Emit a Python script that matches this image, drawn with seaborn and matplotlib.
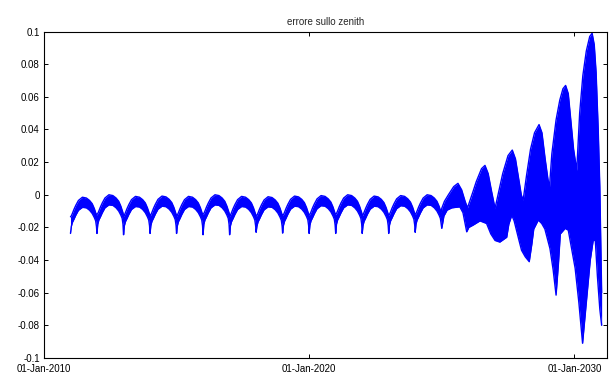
import numpy as np
import pandas as pd
import matplotlib
matplotlib.use("Agg")
from matplotlib import pyplot as plt
import matplotlib.dates as mdates
import seaborn as sns

# ---- data ----
# years 2011..2024: one arch per year, shape of one arch (fraction of year, upper, lower)
arch_years = list(range(2011, 2025))
arch_top = [-0.0015, 0.0, -0.001, -0.0008, -0.001, 0.0, -0.001, -0.0012, -0.0008, -0.0005, 0.0, -0.0008, -0.0005, 0.0]
cusp_low = [-0.0237, -0.0237, -0.0245, -0.0237, -0.0237, -0.0245, -0.0245, -0.023, -0.0235, -0.0237, -0.0237, -0.0237, -0.0237, -0.023]
arch_frac = [0.00, 0.03, 0.07, 0.13, 0.20, 0.30, 0.45, 0.60, 0.72, 0.82, 0.90, 0.95, 0.98]
arch_upper = [-0.012, -0.0115, -0.010, -0.0075, -0.005, -0.002, 0.0, -0.0005, -0.002, -0.004, -0.007, -0.0095, -0.011]
arch_lower = [-0.024, -0.018, -0.0155, -0.0135, -0.011, -0.008, -0.0062, -0.0065, -0.008, -0.010, -0.0125, -0.0145, -0.018]

# 2025..2031: growing oscillation, envelope edges (decimal year, value)
up_years = [2025.00, 2025.10, 2025.25, 2025.45, 2025.61, 2025.75, 2025.88, 2025.97,
            2026.10, 2026.30, 2026.50, 2026.63, 2026.75, 2026.88, 2027.01,
            2027.15, 2027.30, 2027.50, 2027.66, 2027.78, 2027.90, 2028.00, 2028.07,
            2028.20, 2028.35, 2028.50, 2028.67, 2028.78, 2028.90, 2029.00, 2029.06,
            2029.15, 2029.30, 2029.45, 2029.57, 2029.67, 2029.77, 2029.87, 2029.97, 2030.09,
            2030.20, 2030.32, 2030.45, 2030.58, 2030.67, 2030.75, 2030.82, 2030.90, 2030.96, 2031.03]
up_vals = [-0.0083, -0.004, 0.0, 0.005, 0.007, 0.003, -0.004, -0.008,
           -0.002, 0.008, 0.016, 0.018, 0.013, 0.002, -0.0083,
           0.002, 0.013, 0.024, 0.0274, 0.022, 0.010, 0.0, -0.0033,
           0.012, 0.028, 0.038, 0.043, 0.038, 0.022, 0.010, 0.0043,
           0.025, 0.045, 0.058, 0.065, 0.067, 0.062, 0.045, 0.028, 0.015,
           0.050, 0.073, 0.088, 0.097, 0.099, 0.092, 0.075, 0.040, 0.005, -0.060]
low_years = [2025.00, 2025.08, 2025.20, 2025.38, 2025.68, 2025.80, 2025.94, 2026.02, 2026.18, 2026.44,
             2026.69, 2026.85, 2027.01, 2027.19, 2027.45, 2027.53, 2027.64, 2027.73, 2027.82, 2028.01,
             2028.15, 2028.30, 2028.40, 2028.47, 2028.64, 2028.77, 2028.89, 2029.08, 2029.20, 2029.31,
             2029.40, 2029.47, 2029.65, 2029.77, 2030.03, 2030.17, 2030.31, 2030.45, 2030.60, 2030.71,
             2030.79, 2030.87, 2030.96, 2031.03]
low_vals = [-0.0206, -0.013, -0.0094, -0.008, -0.0074, -0.011, -0.0227, -0.020, -0.0186, -0.016,
            -0.0176, -0.024, -0.028, -0.029, -0.026, -0.018, -0.0125, -0.016, -0.022, -0.034,
            -0.038, -0.041, -0.030, -0.021, -0.0155, -0.0176, -0.021, -0.033, -0.046, -0.0615,
            -0.042, -0.024, -0.0206, -0.0217, -0.045, -0.066, -0.091, -0.066, -0.040, -0.028,
            -0.028, -0.050, -0.070, -0.080]

yticks = [-0.1, -0.08, -0.06, -0.04, -0.02, 0, 0.02, 0.04, 0.06, 0.08, 0.1]
xtick_years = [2010, 2020, 2030]


def to_date(y):
    base = int(np.floor(y))
    return pd.Timestamp(base, 1, 1) + pd.Timedelta(days=(y - base) * 365.25)


# build the envelope
t, top, bot = [], [], []
for yr, shift, cl in zip(arch_years, arch_top, cusp_low):
    for f, u, l in zip(arch_frac, arch_upper, arch_lower):
        t.append(yr + f)
        top.append(u + shift)
        bot.append(cl if f == 0 else l + shift)

# late part: put both edges on the same dates
t_late = np.array(sorted(set(up_years) | set(low_years)))
t += list(t_late)
top += list(np.interp(t_late, up_years, up_vals))
bot += list(np.interp(t_late, low_years, low_vals))

df = pd.DataFrame({"date": [to_date(y) for y in t], "upper": top, "lower": bot})

sns.set_style("ticks")
plt.rcParams["font.family"] = ["Liberation Sans", "DejaVu Sans"]

fig = plt.figure(figsize=(6.1, 3.76), dpi=100)
ax = fig.add_axes([0.0721, 0.048, 0.9229, 0.868])

blue = "#0000FF"
ax.fill_between(df["date"], df["lower"], df["upper"], color=blue, linewidth=0)
sns.lineplot(data=df, x="date", y="upper", color=blue, lw=1.0, estimator=None, sort=False, ax=ax)
sns.lineplot(data=df, x="date", y="lower", color=blue, lw=1.0, estimator=None, sort=False, ax=ax)

ax.set_xlim(to_date(2010.0), to_date(2031.23))
ax.set_ylim(-0.1, 0.1)
ax.set_yticks(yticks)
ax.set_yticklabels([f"{v:g}" for v in yticks])
ax.set_xticks([to_date(y) for y in xtick_years])
ax.xaxis.set_major_formatter(mdates.DateFormatter("%d-%b-%Y"))
ax.set_xlabel("")
ax.set_ylabel("")
ax.set_title("errore sullo zenith", fontsize=7, pad=5)

for side in ["top", "right", "left", "bottom"]:
    ax.spines[side].set_visible(True)
    ax.spines[side].set_linewidth(0.8)
    ax.spines[side].set_color("black")
ax.tick_params(direction="in", length=3, width=0.7, top=True, right=True,
               labelsize=7, pad=3, colors="black")
ax.tick_params(axis="x", pad=4.5)

fig.savefig("out.png", dpi=100)
